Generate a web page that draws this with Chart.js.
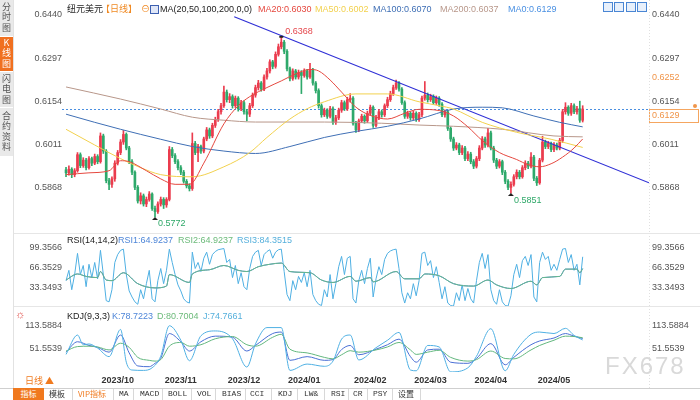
<!DOCTYPE html>
<html>
<head>
<meta charset="utf-8">
<script src="https://cdn.jsdelivr.net/npm/chart.js@4.4.1/dist/chart.umd.min.js"></script>
<style>
body{margin:0;background:#fff;}
#wrap{position:relative;width:700px;height:400px;overflow:hidden;font-family:"Liberation Sans","Noto Sans CJK SC",sans-serif;}
canvas{position:absolute;left:0;}
.t{position:absolute;font-size:9px;line-height:11px;white-space:nowrap;}
.tab{position:absolute;left:0;width:13px;writing-mode:vertical-rl;text-orientation:upright;font-size:9px;line-height:13px;letter-spacing:1.5px;display:flex;align-items:center;justify-content:center;font-family:"Noto Sans CJK SC",sans-serif;}
.sep{position:absolute;height:1px;background:#e6e6e6;}
.ico{position:absolute;top:2px;width:8px;height:8px;border:1px solid #4a86d4;background:#e8f0fb;}
.bar{position:absolute;top:388px;height:12px;font-size:8px;line-height:12px;color:#333;font-family:"Liberation Mono","Noto Sans CJK SC",monospace;}
.bsep{position:absolute;top:389px;width:1px;height:11px;background:#d8d8d8;}
</style>
</head>
<body>
<div id="wrap">
  <canvas id="main" width="700" height="233" style="top:0"></canvas>
  <canvas id="rsi" width="700" height="73" style="top:233px"></canvas>
  <canvas id="kdj" width="700" height="82" style="top:306px"></canvas>

  <div class="sep" style="left:13px;top:233px;width:687px"></div>
  <div class="sep" style="left:13px;top:306px;width:687px"></div>
  <div class="sep" style="left:0;top:388px;width:700px;background:#cfcfcf"></div>
  <div style="position:absolute;left:13px;top:0;width:1px;height:388px;background:#e2e2e2"></div>

  <div class="tab" style="top:0;height:36px;background:#e9e9e9;color:#555">分时图</div>
  <div class="tab" style="top:37px;height:34px;background:#f07020;color:#fff">K线图</div>
  <div class="tab" style="top:72px;height:35px;background:#e9e9e9;color:#555">闪电图</div>
  <div class="tab" style="top:108px;height:48px;background:#e9e9e9;color:#555">合约资料</div>

  <span class="t" style="left:67px;top:4px;color:#222">纽元美元</span>
  <span class="t" style="left:101px;top:4px;color:#f08a24">【日线】</span>
  <span class="t" style="left:141px;top:4px;color:#f08a24">⊖</span>
  <span style="position:absolute;left:150px;top:5px;width:7px;height:7px;border:1px solid #3c5fb0;background:#dfe6f7"></span>
  <span class="t" style="left:160px;top:4px;color:#222">MA(20,50,100,200,0,0)</span>
  <span class="t" style="left:258px;top:4px;color:#e5483f">MA20:0.6030</span>
  <span class="t" style="left:315px;top:4px;color:#f2d14e">MA50:0.6002</span>
  <span class="t" style="left:373px;top:4px;color:#3f6fb5">MA100:0.6070</span>
  <span class="t" style="left:440px;top:4px;color:#b8978a">MA200:0.6037</span>
  <span class="t" style="left:508px;top:4px;color:#4a90e2">MA0:0.6129</span>
  <span class="ico" style="left:603px"></span>
  <span class="ico" style="left:614px"></span>
  <span class="ico" style="left:626px"></span>
  <span class="ico" style="left:637px"></span>

  <span class="t" style="left:67px;top:235px;color:#222">RSI(14,14,2)</span>
  <span class="t" style="left:118px;top:235px;color:#4e86d8">RSI1:64.9237</span>
  <span class="t" style="left:178px;top:235px;color:#6dbb7b">RSI2:64.9237</span>
  <span class="t" style="left:237px;top:235px;color:#56b0dc">RSI3:84.3515</span>

  <span class="t" style="left:15px;top:309px;color:#e0504a;font-size:11px">☼</span>
  <span class="t" style="left:67px;top:311px;color:#222">KDJ(9,3,3)</span>
  <span class="t" style="left:112px;top:311px;color:#4e86d8">K:78.7223</span>
  <span class="t" style="left:157px;top:311px;color:#6dbb7b">D:80.7004</span>
  <span class="t" style="left:203px;top:311px;color:#56b0dc">J:74.7661</span>

  <span class="t" style="left:25px;top:375px;color:#f07a1f;font-family:'Noto Sans CJK SC'">日线 ▲</span>
  <span class="t" style="left:605px;top:352px;font-size:24px;line-height:28px;color:#d9d9d9;letter-spacing:2px">FX678</span>

  <div class="bar" style="left:13px;width:31px;background:#f0791e;color:#fff;text-align:center;font-family:'Noto Sans CJK SC'">指标</div>
  <div class="bar" style="left:49px;font-family:'Noto Sans CJK SC'">模板</div>
  <div class="bsep" style="left:72px"></div>
  <div class="bar" style="left:78px;color:#f07a1f;font-family:'Noto Sans CJK SC'">VIP指标</div>
  <div class="bsep" style="left:113px"></div>
  <div class="bar" style="left:119px">MA</div>
  <div class="bsep" style="left:133px"></div>
  <div class="bar" style="left:140px">MACD</div>
  <div class="bsep" style="left:162px"></div>
  <div class="bar" style="left:168px">BOLL</div>
  <div class="bsep" style="left:191px"></div>
  <div class="bar" style="left:197px">VOL</div>
  <div class="bsep" style="left:215px"></div>
  <div class="bar" style="left:222px">BIAS</div>
  <div class="bsep" style="left:245px"></div>
  <div class="bar" style="left:250px">CCI</div>
  <div class="bsep" style="left:271px"></div>
  <div class="bar" style="left:278px">KDJ</div>
  <div class="bsep" style="left:297px"></div>
  <div class="bar" style="left:304px">LW&amp;</div>
  <div class="bsep" style="left:324px"></div>
  <div class="bar" style="left:331px">RSI</div>
  <div class="bsep" style="left:348px"></div>
  <div class="bar" style="left:353px">CR</div>
  <div class="bsep" style="left:367px"></div>
  <div class="bar" style="left:373px">PSY</div>
  <div class="bsep" style="left:392px"></div>
  <div class="bar" style="left:398px;font-family:'Noto Sans CJK SC'">设置</div>
  <div class="bsep" style="left:420px"></div>
</div>

<script>
// daily candles, NZD/USD, index 0 = 2023-09-06
const open = [
  .5928,.5918,.5930,.5912,.5925,.5978,.5942,.5960,.5935,.5965,
  .5950,.5972,.5955,.6040,.5990,.5892,.5880,.5898,.5950,.5985,
  .6020,.6045,.6000,.5955,.5920,.5870,.5825,.5842,.5815,.5830,
  .5848,.5800,.5790,.5815,.5830,.5812,.5830,.5995,.5975,.5955,
  .5935,.5920,.5890,.5875,.5866,.6015,.5985,.6005,.5990,.6030,
  .6060,.6040,.6075,.6095,.6120,.6140,.6185,.6160,.6170,.6140,
  .6165,.6130,.6150,.6120,.6112,.6140,.6175,.6200,.6215,.6195,
  .6235,.6255,.6285,.6270,.6310,.6335,.6350,.6320,.6262,.6230,
  .6255,.6235,.6250,.6240,.6255,.6235,.6260,.6215,.6190,.6140,
  .6110,.6125,.6105,.6130,.6085,.6100,.6125,.6150,.6130,.6160,
  .6165,.6082,.6060,.6090,.6105,.6090,.6115,.6135,.6075,.6100,
  .6120,.6110,.6140,.6160,.6180,.6200,.6215,.6195,.6150,.6105,
  .6115,.6100,.6115,.6095,.6110,.6165,.6175,.6160,.6170,.6150,
  .6165,.6145,.6110,.6120,.6065,.6030,.6000,.6010,.5985,.6000,
  .5965,.5980,.5955,.5940,.5965,.6000,.6030,.6010,.6050,.6000,
  .5960,.5940,.5955,.5920,.5890,.5870,.5880,.5905,.5920,.5905,
  .5935,.5950,.5940,.5970,.5900,.5885,.5960,.6020,.6005,.6015,
  .5995,.6010,.6000,.6025,.6120,.6135,.6115,.6140,.6120,.6130,
  .6092
];
const close = [
  .5918,.5930,.5912,.5925,.5978,.5942,.5960,.5935,.5965,.5950,
  .5972,.5955,.6040,.5990,.5892,.5880,.5898,.5950,.5985,.6020,
  .6045,.6000,.5955,.5920,.5870,.5825,.5842,.5815,.5830,.5848,
  .5800,.5790,.5815,.5830,.5812,.5830,.5995,.5975,.5955,.5935,
  .5920,.5890,.5875,.5866,.6015,.5985,.6005,.5990,.6030,.6060,
  .6040,.6075,.6095,.6120,.6140,.6185,.6160,.6170,.6140,.6165,
  .6130,.6150,.6120,.6112,.6140,.6175,.6200,.6215,.6195,.6235,
  .6255,.6285,.6270,.6310,.6335,.6350,.6320,.6262,.6230,.6255,
  .6235,.6250,.6240,.6255,.6235,.6260,.6215,.6190,.6140,.6110,
  .6125,.6105,.6130,.6085,.6100,.6125,.6150,.6130,.6160,.6165,
  .6082,.6060,.6090,.6105,.6090,.6115,.6135,.6075,.6100,.6120,
  .6110,.6140,.6160,.6180,.6200,.6215,.6195,.6150,.6105,.6115,
  .6100,.6115,.6095,.6110,.6165,.6175,.6160,.6170,.6150,.6165,
  .6145,.6110,.6120,.6065,.6030,.6000,.6010,.5985,.6000,.5965,
  .5980,.5955,.5940,.5965,.6000,.6030,.6010,.6050,.6000,.5960,
  .5940,.5955,.5920,.5890,.5870,.5880,.5905,.5920,.5905,.5935,
  .5950,.5940,.5970,.5900,.5885,.5960,.6020,.6005,.6015,.5995,
  .6010,.6000,.6025,.6120,.6135,.6115,.6140,.6120,.6130,.6092,
  .6129
];
const high = [
  .5936,.5941,.5935,.5932,.5985,.5984,.5968,.5966,.5972,.5970,
  .5980,.5978,.6050,.6046,.5995,.5900,.5905,.5958,.5992,.6028,
  .6058,.6050,.6006,.5962,.5925,.5876,.5852,.5848,.5838,.5856,
  .5852,.5808,.5822,.5838,.5836,.5836,.6005,.6002,.5982,.5962,
  .5942,.5926,.5896,.5882,.6050,.6022,.6012,.6010,.6036,.6068,
  .6066,.6082,.6102,.6128,.6148,.6205,.6192,.6180,.6176,.6172,
  .6170,.6158,.6156,.6128,.6148,.6182,.6208,.6224,.6220,.6242,
  .6264,.6292,.6290,.6318,.6344,.6368,.6356,.6326,.6268,.6262,
  .6260,.6258,.6256,.6262,.6260,.6280,.6264,.6220,.6196,.6146,
  .6132,.6130,.6138,.6136,.6108,.6132,.6158,.6156,.6168,.6180,
  .6170,.6088,.6096,.6112,.6110,.6122,.6142,.6140,.6108,.6128,
  .6126,.6146,.6168,.6188,.6208,.6225,.6220,.6200,.6156,.6122,
  .6120,.6122,.6120,.6118,.6172,.6220,.6182,.6178,.6176,.6172,
  .6170,.6150,.6126,.6125,.6070,.6036,.6018,.6016,.6008,.6006,
  .5988,.5986,.5962,.5972,.6008,.6038,.6036,.6065,.6056,.6006,
  .5966,.5962,.5960,.5926,.5896,.5888,.5912,.5928,.5926,.5942,
  .5958,.5956,.5985,.5976,.5906,.5966,.6039,.6026,.6022,.6020,
  .6018,.6016,.6032,.6128,.6150,.6140,.6148,.6146,.6138,.6155,
  .6140
];
const low = [
  .5905,.5910,.5902,.5905,.5920,.5935,.5936,.5928,.5930,.5942,
  .5945,.5948,.5950,.5982,.5885,.5862,.5870,.5890,.5944,.5978,
  .6012,.5994,.5948,.5912,.5862,.5818,.5815,.5808,.5806,.5824,
  .5794,.5772,.5784,.5808,.5800,.5804,.5825,.5968,.5948,.5928,
  .5912,.5884,.5868,.5858,.5860,.5978,.5955,.5982,.5984,.6024,
  .6032,.6034,.6068,.6088,.6112,.6134,.6152,.6150,.6132,.6134,
  .6122,.6124,.6112,.6090,.6104,.6134,.6168,.6192,.6188,.6190,
  .6228,.6248,.6262,.6264,.6304,.6328,.6312,.6255,.6222,.6224,
  .6228,.6228,.6180,.6234,.6228,.6230,.6208,.6182,.6132,.6102,
  .6104,.6098,.6100,.6078,.6078,.6094,.6118,.6124,.6124,.6152,
  .6076,.6052,.6054,.6084,.6082,.6084,.6108,.6068,.6070,.6094,
  .6102,.6104,.6134,.6154,.6174,.6194,.6188,.6144,.6098,.6098,
  .6092,.6094,.6088,.6088,.6104,.6158,.6152,.6154,.6144,.6144,
  .6138,.6104,.6102,.6058,.6022,.5992,.5994,.5978,.5978,.5958,
  .5958,.5948,.5932,.5934,.5958,.5994,.6002,.6004,.5994,.5952,
  .5932,.5934,.5912,.5882,.5862,.5851,.5874,.5898,.5898,.5900,
  .5928,.5932,.5934,.5892,.5876,.5880,.5954,.5998,.5998,.5988,
  .5988,.5994,.5994,.6018,.6112,.6108,.6108,.6114,.6112,.6085,
  .6086
];

// moving averages as [candle index, value]
const ma20 = [[0,.5912],[8,.5918],[15,.5925],[19,.5958],[22,.5955],[28,.5925],[33,.5898],[38,.5880],[43,.5880],[48,.5950],[55,.6080],[60,.6140],[64,.6170],[70,.6200],[75,.6222],[80,.6245],[85,.6260],[88,.6255],[92,.6225],[96,.6185],[101,.6135],[106,.6108],[112,.6096],[118,.6115],[123,.6128],[130,.6124],[135,.6106],[140,.6070],[145,.6025],[151,.5985],[157,.5962],[161,.5945],[165,.5938],[169,.5948],[173,.5970],[177,.6000],[180,.6030]];
const ma50 = [[0,.6062],[10,.6010],[19,.5965],[26,.5935],[33,.5912],[44,.5905],[55,.5938],[64,.5985],[70,.6035],[78,.6096],[84,.6130],[90,.6153],[101,.6179],[112,.6179],[123,.6153],[130,.6140],[135,.6129],[145,.6085],[157,.6052],[169,.6029],[180,.6002]];
const ma100 = [[0,.6112],[10,.6085],[19,.6062],[33,.6029],[44,.6005],[55,.5990],[66,.5982],[78,.6005],[90,.6035],[101,.6055],[112,.6072],[123,.6096],[135,.6129],[145,.6135],[152,.6133],[163,.6106],[172,.6085],[180,.6070]];
const ma200 = [[0,.6202],[19,.6162],[33,.6129],[44,.6102],[55,.6092],[66,.6086],[90,.6086],[110,.6082],[123,.6076],[135,.6072],[152,.6062],[170,.6040],[180,.6037]];
const trendLine = [[58.6,.6434],[203.1,.5885]];
const refPrice = 0.6252;
const extremes = [[75,'high'],[31,'low'],[155,'low']];

// RSI(14,14,2)
const rsi14 = [[0,46],[4,56],[7,52],[11,50],[12,60],[14,46],[16,45],[20,58],[25,40],[31,33],[35,36],[36,55],[43,42],[44,56],[50,63],[55,70],[60,62],[63,60],[67,68],[71,72],[75,74],[78,60],[85,58],[89,46],[93,42],[99,52],[101,44],[106,50],[107,43],[115,60],[118,48],[123,48],[125,56],[130,53],[135,40],[142,36],[147,46],[150,38],[155,32],[162,44],[164,38],[166,50],[172,52],[174,64],[178,64],[179,58],[180,64.92]];
const rsi2 = [
  45,62,30,55,90,55,70,35,72,50,
  75,48,95,55,12,10,30,75,88,95,
  97,55,28,18,10,6,30,15,40,62,
  15,10,45,65,40,62,97,75,55,38,
  28,15,10,8,92,65,75,60,82,92,
  72,88,93,96,97,98,75,80,50,70,
  40,58,35,30,65,85,92,95,70,88,
  93,96,82,92,96,97,60,22,12,45,
  30,52,42,58,35,62,22,12,6,4,
  30,18,55,15,40,68,85,55,82,85,
  15,8,45,62,40,65,82,18,48,68,
  55,80,90,94,96,97,65,25,8,25,
  15,40,20,45,90,92,70,78,50,68,
  42,15,35,8,4,3,25,12,38,12,
  32,15,8,45,75,90,65,88,30,12,
  6,30,10,4,3,20,55,72,50,78,
  85,70,88,18,10,75,92,80,85,62,
  72,62,80,97,98,75,88,62,72,38,
  84.35
];

// KDJ(9,3,3) as [candle index, value]
const kdjK = [[0,42],[4,70],[8,60],[11,55],[15,42],[19,88],[22,40],[25,5],[29,3],[31,12],[33,25],[36,92],[40,70],[43,45],[47,70],[52,85],[58,82],[63,45],[66,60],[72,92],[75,96],[78,20],[84,30],[90,20],[93,22],[96,49],[99,60],[102,35],[108,50],[112,62],[116,77],[120,30],[122,15],[126,48],[130,50],[134,15],[140,12],[143,25],[148,65],[153,8],[156,28],[162,62],[165,72],[170,80],[174,92],[177,85],[180,78.72]];
const kdjD = [[0,45],[4,57],[8,58],[11,56],[15,48],[19,66],[22,55],[25,28],[29,20],[31,18],[33,22],[36,58],[40,68],[43,58],[47,62],[52,78],[58,84],[63,62],[66,58],[72,82],[75,90],[78,50],[84,40],[90,28],[93,24],[96,35],[99,46],[102,42],[108,48],[112,56],[116,68],[120,48],[122,36],[126,42],[130,47],[134,28],[140,18],[143,22],[148,45],[153,25],[156,24],[162,48],[165,60],[170,74],[174,85],[177,84],[180,80.70]];
const kdjJ = [[0,36],[4,88],[6,62],[8,64],[11,53],[15,30],[19,103],[21,15],[23,-6],[27,-7],[30,0],[33,31],[36,113],[40,74],[43,19],[47,86],[52,99],[58,78],[63,2],[66,64],[70,108],[75,108],[78,-7],[84,10],[90,4],[93,18],[96,77],[99,88],[102,21],[108,54],[112,74],[116,95],[120,-6],[122,-8],[126,60],[130,56],[134,-11],[140,0],[143,31],[148,105],[153,-8],[156,36],[162,90],[165,96],[170,92],[174,106],[177,87],[180,74.77]];

const priceTicks = [0.5868, 0.6011, 0.6154, 0.6297, 0.6440];
const rsiTicks = [33.3493, 66.3529, 99.3566];
const kdjTicks = [51.5539, 113.5884];
const monthTickIdx = [18, 40, 62, 83, 106, 127, 148, 170];
const monthTickLabels = ['2023/10','2023/11','2023/12','2024/01','2024/02','2024/03','2024/04','2024/05'];

const upColor = '#eb3c4e', downColor = '#2ea96b';
const lastPrice = close[close.length - 1];
const X_MIN = -1.4, X_MAX = 203.1;

Chart.defaults.font.family = '"Liberation Sans","Noto Sans CJK SC",sans-serif';
Chart.defaults.animation = false;
Chart.defaults.plugins.legend.display = false;
Chart.defaults.plugins.tooltip.enabled = false;

const pts = arr => arr.map(([i, v]) => ({x: i, y: v}));
const candleColor = ctx => close[ctx.dataIndex] >= open[ctx.dataIndex] ? upColor : downColor;

function yAxes(min, max, ticks) {
  const common = {
    type: 'linear', min, max,
    grid: {display: false, drawTicks: false}, border: {display: false},
    afterBuildTicks: s => { s.ticks = ticks.map(v => ({value: v})); },
  };
  const tickOpts = {color: '#555', font: {size: 9}, autoSkip: false, callback: v => v.toFixed(4)};
  return {
    y: {...common, position: 'left', ticks: {...tickOpts, padding: 0},
        afterFit: s => { s.width = 62; s.paddingTop = 0; s.paddingBottom = 0; }},
    y2: {...common, position: 'right', ticks: {...tickOpts, padding: 3},
        afterFit: s => { s.width = 51; s.paddingTop = 0; s.paddingBottom = 0; }},
  };
}
const hiddenX = {type: 'linear', min: X_MIN, max: X_MAX, offset: false, display: false};

function line(data, color, extra) {
  return Object.assign({type: 'line', data, borderColor: color, borderWidth: 1, pointRadius: 0,
    cubicInterpolationMode: 'monotone', order: 0}, extra || {});
}

const rightEdge = {
  id: 'rightEdge',
  afterDraw(chart) {
    const {ctx, chartArea: a} = chart;
    ctx.save();
    ctx.strokeStyle = '#e0e0e0';
    ctx.setLineDash([1, 2]);
    ctx.beginPath();
    ctx.moveTo(Math.round(a.right) + 0.5, 0);
    ctx.lineTo(Math.round(a.right) + 0.5, chart.height);
    ctx.stroke();
    ctx.restore();
  }
};

const mainExtras = {
  id: 'mainExtras',
  beforeDatasetsDraw(chart) {
    const {ctx, chartArea: a, scales: {y}} = chart;
    const py = Math.round(y.getPixelForValue(lastPrice)) + 0.5;
    ctx.save();
    ctx.strokeStyle = '#4a8fe0';
    ctx.setLineDash([2, 2]);
    ctx.beginPath(); ctx.moveTo(a.left, py); ctx.lineTo(a.right, py); ctx.stroke();
    ctx.restore();
  },
  afterDraw(chart) {
    const {ctx, chartArea: a, scales: {x, y}} = chart;
    ctx.save();
    ctx.font = '9px "Liberation Sans"';
    ctx.textBaseline = 'top';
    let py = y.getPixelForValue(refPrice);
    ctx.fillStyle = '#f0954a';
    ctx.fillText(refPrice.toFixed(4), a.right + 3, py + 1);
    py = Math.round(y.getPixelForValue(lastPrice));
    ctx.fillStyle = '#fff';
    ctx.fillRect(a.right, py, 50, 13);
    ctx.strokeStyle = '#f5a660';
    ctx.strokeRect(a.right + 0.5, py + 0.5, 49, 13);
    ctx.fillStyle = '#f0954a';
    ctx.fillText(lastPrice.toFixed(4), a.right + 3, py + 2);
    ctx.beginPath(); ctx.arc(a.right + 46, py - 3, 2, 0, Math.PI * 2); ctx.fill();

    ctx.textBaseline = 'middle';
    extremes.forEach(([i, kind]) => {
      const px = x.getPixelForValue(i);
      if (kind === 'high') {
        const v = high[i], vy = y.getPixelForValue(v);
        ctx.fillStyle = '#222';
        ctx.fillRect(px - 2, vy - 1, 4, 2);
        ctx.fillStyle = '#e5484d';
        ctx.fillText(v.toFixed(4), px + 4, vy - 5);
      } else {
        const v = low[i], vy = y.getPixelForValue(v);
        ctx.fillStyle = '#222';
        ctx.beginPath(); ctx.moveTo(px - 3, vy + 3); ctx.lineTo(px + 3, vy + 3); ctx.lineTo(px, vy); ctx.fill();
        ctx.fillStyle = '#2ea868';
        ctx.fillText(v.toFixed(4), px + 3, vy + 7);
      }
    });
    ctx.restore();
  }
};

new Chart(document.getElementById('main'), {
  type: 'bar',
  data: {
    datasets: [
      {data: close.map((c, i) => ({x: i, y: [low[i], high[i]]})), backgroundColor: candleColor,
       barThickness: 1, grouped: false, order: 2},
      {data: close.map((c, i) => ({x: i, y: [open[i], c]})), backgroundColor: candleColor,
       barThickness: 2, minBarLength: 1, grouped: false, order: 1},
      line(pts(ma20), '#e5483f'),
      line(pts(ma50), '#f2d14e'),
      line(pts(ma100), '#3f6fb5'),
      line(pts(ma200), '#b8978a'),
      line(pts(trendLine), '#2f2fd6', {borderWidth: 1.2, cubicInterpolationMode: 'default', tension: 0}),
    ]
  },
  options: {
    responsive: false,
    layout: {padding: {top: 15, bottom: 0, left: 0, right: 0}},
    scales: {x: hiddenX, ...yAxes(0.5719, 0.6440, priceTicks)}
  },
  plugins: [mainExtras, rightEdge]
});

new Chart(document.getElementById('rsi'), {
  type: 'line',
  data: {
    datasets: [
      line(pts(rsi14), '#67b98a'),
      line(pts(rsi14), '#4a80d8'),
      line(rsi2.map((v, i) => ({x: i, y: v})), '#4fb0e3', {cubicInterpolationMode: 'default', tension: 0}),
    ]
  },
  options: {
    responsive: false,
    layout: {padding: 0},
    scales: {x: hiddenX, ...yAxes(3.15, 123.6, rsiTicks)}
  },
  plugins: [rightEdge]
});

new Chart(document.getElementById('kdj'), {
  type: 'line',
  data: {
    datasets: [
      line(pts(kdjJ), '#4fb0e3'),
      line(pts(kdjD), '#62b77e'),
      line(pts(kdjK), '#4a6fd5'),
    ]
  },
  options: {
    responsive: false,
    layout: {padding: 0},
    scales: {
      x: {
        type: 'linear', min: X_MIN, max: X_MAX, offset: false,
        grid: {display: false, drawTicks: false}, border: {display: false},
        afterBuildTicks: s => { s.ticks = monthTickIdx.map(v => ({value: v})); },
        afterFit: s => { s.height = 16; s.paddingLeft = 0; s.paddingRight = 0; },
        ticks: {color: '#333', font: {size: 9, weight: 'bold'}, padding: 3, autoSkip: false, maxRotation: 0,
                callback: v => monthTickLabels[monthTickIdx.indexOf(v)]}
      },
      ...yAxes(-11.3, 166, kdjTicks)
    }
  },
  plugins: [rightEdge]
});
</script>
</body>
</html>
